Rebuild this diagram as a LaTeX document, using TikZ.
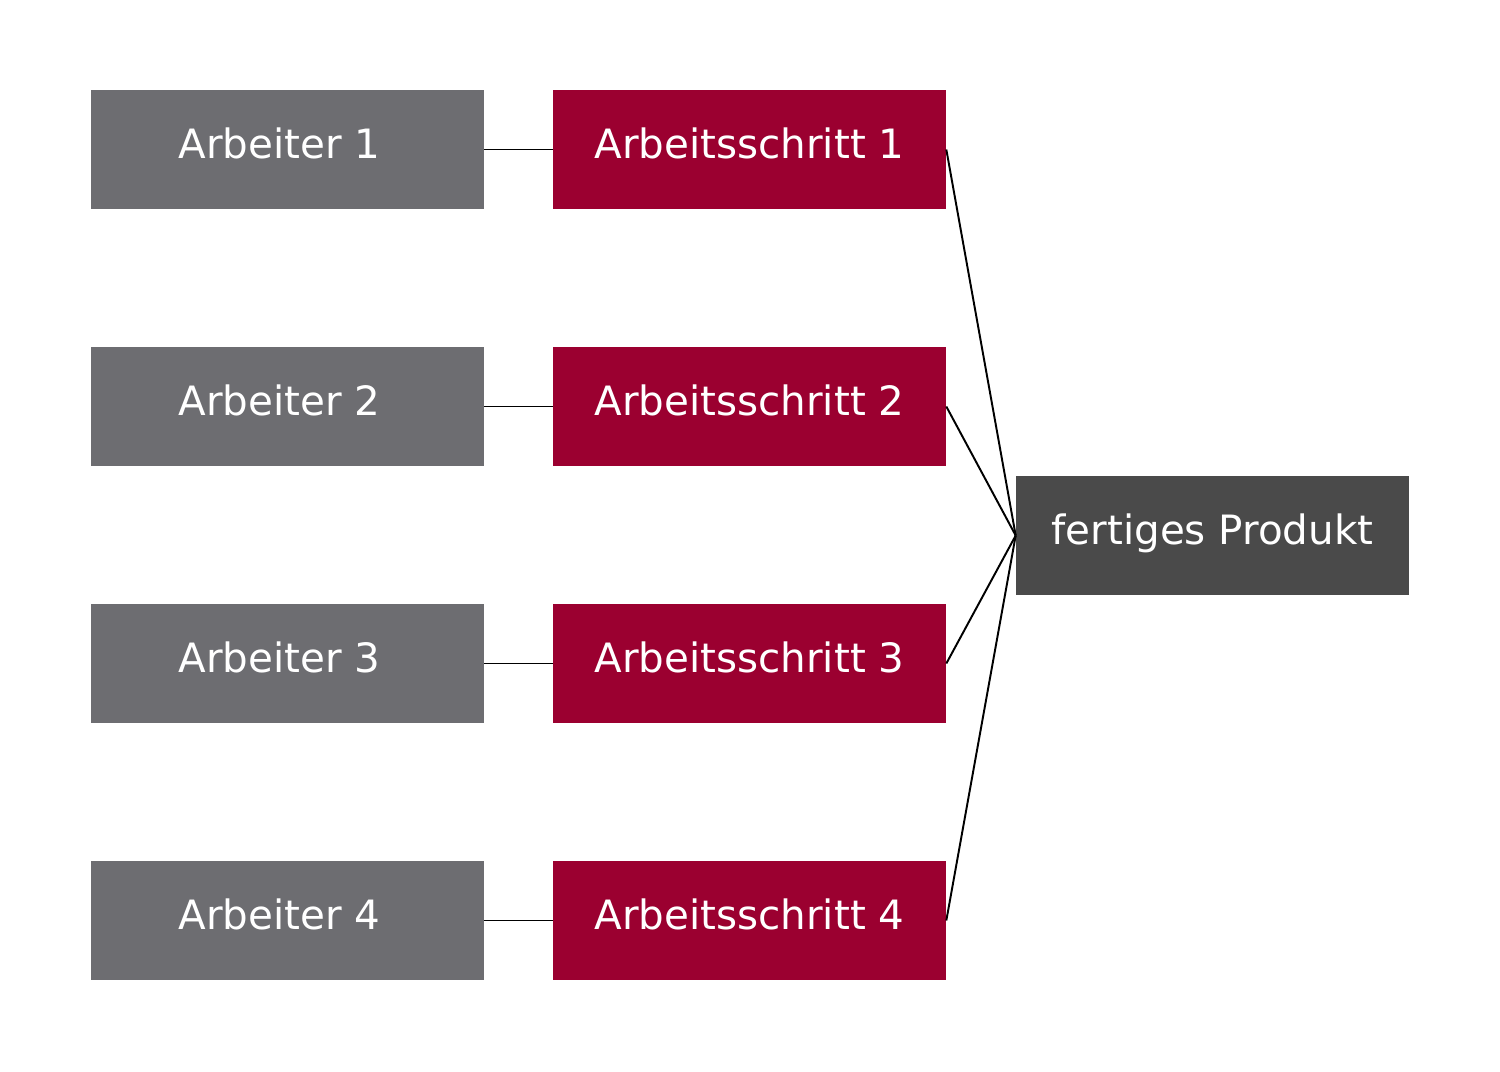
\documentclass[tikz,border=0pt]{standalone}
\usepackage{fontspec}
\setmainfont{DejaVu Sans}
\usepackage{tikz}
\definecolor{arbgrau}{HTML}{6D6D71}
\definecolor{schrittrot}{HTML}{9B0030}
\definecolor{produktgrau}{HTML}{4A4A4A}

\begin{document}
\begin{tikzpicture}[x=0.02cm,y=-0.02cm,
    box/.style={minimum width=7.86cm,minimum height=2.38cm,inner sep=0pt,text=white,
      text height=0.97em,text depth=0em,font=\fontsize{23}{27}\selectfont},
    arbeiter/.style={box,fill=arbgrau,execute at begin node={\hspace*{-0.32cm}}},
    schritt/.style={box,fill=schrittrot},
    produkt/.style={box,fill=produktgrau},
    verbindung/.style={line width=1.1pt,black}]
  \useasboundingbox (0,0) rectangle (1500,1071);
      \draw (287.5,149.5) node[arbeiter] (arbeiter1) {Arbeiter 1};
  \draw (749.5,149.5) node[schritt] (schritt1) {Arbeitsschritt 1};
      \draw (287.5,406.5) node[arbeiter] (arbeiter2) {Arbeiter 2};
  \draw (749.5,406.5) node[schritt] (schritt2) {Arbeitsschritt 2};
      \draw (287.5,663.5) node[arbeiter] (arbeiter3) {Arbeiter 3};
  \draw (749.5,663.5) node[schritt] (schritt3) {Arbeitsschritt 3};
      \draw (287.5,920.5) node[arbeiter] (arbeiter4) {Arbeiter 4};
  \draw (749.5,920.5) node[schritt] (schritt4) {Arbeitsschritt 4};
  \draw (1212.5,535.5) node[produkt] (produkt) {fertiges Produkt};

      \path[-,verbindung] (arbeiter1) edge (schritt1);
      \path[-,verbindung] (arbeiter2) edge (schritt2);
      \path[-,verbindung] (arbeiter3) edge (schritt3);
      \path[-,verbindung] (arbeiter4) edge (schritt4);
      \path[-,verbindung] (schritt1.east) edge (produkt.west);
      \path[-,verbindung] (schritt2.east) edge (produkt.west);
      \path[-,verbindung] (schritt3.east) edge (produkt.west);
      \path[-,verbindung] (schritt4.east) edge (produkt.west);
\end{tikzpicture}
\end{document}
